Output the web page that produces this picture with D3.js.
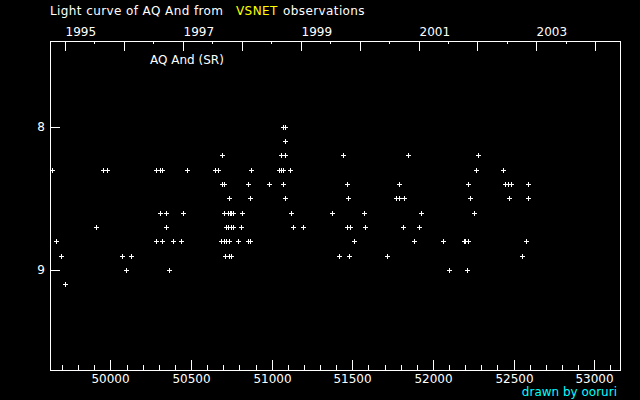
<!DOCTYPE html>
<html>
<head>
<meta charset="utf-8">
<script src="https://cdn.jsdelivr.net/npm/d3@7"></script>
<style>
  body { margin: 0; background: #000; }
  svg { display: block; background: #000; }
  text { font-family: "DejaVu Sans", sans-serif; font-size: 12px; fill: #fff; }
</style>
</head>
<body>
<svg id="chart" width="640" height="400"></svg>
<script>
var starName = 'AQ And';
var starType = 'SR';

// visual estimates: [JD - 2400000, magnitude]
var observations = [
  [51070, 8.0], [51082, 8.0],
  [51084, 8.1],
  [50694, 8.2], [51059, 8.2], [51084, 8.2], [51444, 8.2], [51847, 8.2], [52281, 8.2],
  [49639, 8.3], [49955, 8.3], [49980, 8.3], [50284, 8.3], [50309, 8.3], [50321, 8.3],
  [50476, 8.3], [50648, 8.3], [50669, 8.3], [50873, 8.3], [51045, 8.3], [51057, 8.3],
  [51070, 8.3], [51115, 8.3], [52269, 8.3], [52436, 8.3],
  [50694, 8.4], [50706, 8.4], [50855, 8.4], [50985, 8.4], [51072, 8.4], [51469, 8.4],
  [51791, 8.4], [52219, 8.4], [52449, 8.4], [52467, 8.4], [52486, 8.4], [52591, 8.4],
  [50737, 8.5], [50867, 8.5], [51084, 8.5], [51475, 8.5], [51773, 8.5], [51791, 8.5],
  [51822, 8.5], [52232, 8.5], [52474, 8.5], [52591, 8.5],
  [50309, 8.6], [50346, 8.6], [50452, 8.6], [50706, 8.6], [50731, 8.6], [50741, 8.6],
  [50750, 8.6], [50762, 8.6], [50818, 8.6], [51122, 8.6], [51376, 8.6], [51574, 8.6],
  [51928, 8.6], [52257, 8.6],
  [49912, 8.7], [50346, 8.7], [50718, 8.7], [50731, 8.7], [50750, 8.7], [50760, 8.7],
  [50811, 8.7], [51134, 8.7], [51196, 8.7], [51469, 8.7], [51487, 8.7], [51580, 8.7],
  [51816, 8.7], [51915, 8.7],
  [49664, 8.8], [50284, 8.8], [50321, 8.8], [50390, 8.8], [50439, 8.8], [50687, 8.8],
  [50707, 8.8], [50716, 8.8], [50737, 8.8], [50794, 8.8], [50856, 8.8], [50865, 8.8],
  [51512, 8.8], [51884, 8.8], [52064, 8.8], [52190, 8.8], [52199, 8.8], [52219, 8.8],
  [52579, 8.8],
  [49695, 8.9], [50073, 8.9], [50129, 8.9], [50712, 8.9], [50738, 8.9], [50747, 8.9],
  [51419, 8.9], [51481, 8.9], [51717, 8.9], [52554, 8.9],
  [50098, 9.0], [50365, 9.0], [52101, 9.0], [52213, 9.0],
  [49720, 9.1]
];

var magTicks = [8, 9];
var jdLabels = [50000, 50500, 51000, 51500, 52000, 52500, 53000];
var jdMinorStep = 100;
var yearTicks = [1995, 1996, 1997, 1998, 1999, 2000, 2001, 2002, 2003, 2004];
var yearLabels = [1995, 1997, 1999, 2001, 2003];

var jdRange = [49625, 53160];
var magRange = [7.4, 9.7];

// plot box (note: "top" is reserved on window)
var box = {left: 50, right: 620, top: 41, bottom: 370};

var svg = d3.select('#chart');

var x = d3.scaleLinear().domain(jdRange).rangeRound([box.left, box.right]);
var y = d3.scaleLinear().domain(magRange).rangeRound([box.top, box.bottom]);

// calendar date -> JD-2400000
function toJD(date) {
  return date.getTime() / 86400000 + 40587.5;
}
var yearJD = yearTicks.map(function(yr) { return toJD(new Date(Date.UTC(yr, 0, 1))); });
var halfJD = yearTicks.map(function(yr) { return toJD(new Date(Date.UTC(yr, 6, 2))); })
  .filter(function(d) { return d > jdRange[0] && d < jdRange[1]; });

var minorJD = d3.range(Math.ceil(jdRange[0]/jdMinorStep)*jdMinorStep, jdRange[1], jdMinorStep)
  .filter(function(d) { return jdLabels.indexOf(d) < 0; });

function styleAxis(g) {
  g.select('.domain').remove();
  g.selectAll('line').attr('stroke', '#fff');
  g.selectAll('text').attr('fill', '#fff').attr('font-family', '"DejaVu Sans", sans-serif').attr('font-size', 12);
}

// bottom JD axis
svg.append('g')
  .attr('transform', 'translate(0,' + box.bottom + ')')
  .call(d3.axisBottom(x).tickValues(minorJD).tickSizeInner(-5).tickSizeOuter(0).tickFormat(''))
  .call(styleAxis);
svg.append('g')
  .attr('transform', 'translate(0,' + box.bottom + ')')
  .call(d3.axisBottom(x).tickValues(jdLabels).tickSizeInner(-10).tickSizeOuter(0).tickPadding(4).tickFormat(d3.format('d')))
  .call(styleAxis);

// top year axis
svg.append('g')
  .attr('transform', 'translate(0,' + box.top + ')')
  .call(d3.axisTop(x).tickValues(halfJD).tickSizeInner(-3).tickSizeOuter(0).tickFormat(''))
  .call(styleAxis);
svg.append('g')
  .attr('transform', 'translate(0,' + box.top + ')')
  .call(d3.axisTop(x).tickValues(yearJD).tickSizeInner(-10).tickSizeOuter(0).tickPadding(5)
    .tickFormat(function(d, i) { return yearLabels.indexOf(yearTicks[i]) >= 0 ? yearTicks[i] : ''; }))
  .call(styleAxis)
  .selectAll('text').attr('text-anchor', 'start');

// left magnitude axis
svg.append('g')
  .attr('transform', 'translate(' + box.left + ',0)')
  .call(d3.axisLeft(y).tickValues(magTicks).tickSizeInner(-10).tickSizeOuter(0).tickPadding(5).tickFormat(d3.format('d')))
  .call(styleAxis);

// frame
svg.append('rect')
  .attr('x', box.left + 0.5).attr('y', box.top + 0.5)
  .attr('width', box.right - box.left).attr('height', box.bottom - box.top)
  .attr('fill', 'none').attr('stroke', '#fff');

// points
svg.append('g').selectAll('path')
  .data(observations)
  .enter().append('path')
  .attr('transform', function(d) { return 'translate(' + x(d[0]) + ',' + y(d[1]) + ')'; })
  .attr('d', 'M-2,0.5H3M0.5,-2V3')
  .attr('stroke', '#fff')
  .attr('fill', 'none')
  .attr('shape-rendering', 'crispEdges');

// star label
svg.append('text')
  .attr('x', 150).attr('y', 64)
  .text(starName + ' (' + starType + ')');

// title
var title = svg.append('text').attr('x', box.left).attr('y', 15).attr('letter-spacing', '0.4px');
title.append('tspan').text('Light curve of ' + starName + ' from');
title.append('tspan').attr('x', 236).style('fill', '#ffff00').text('VSNET');
title.append('tspan').attr('x', 283).text('observations');

// credit
svg.append('text')
  .attr('x', 617).attr('y', 396)
  .attr('text-anchor', 'end')
  .style('fill', '#00ffff')
  .text('drawn by ooruri');
</script>
</body>
</html>
